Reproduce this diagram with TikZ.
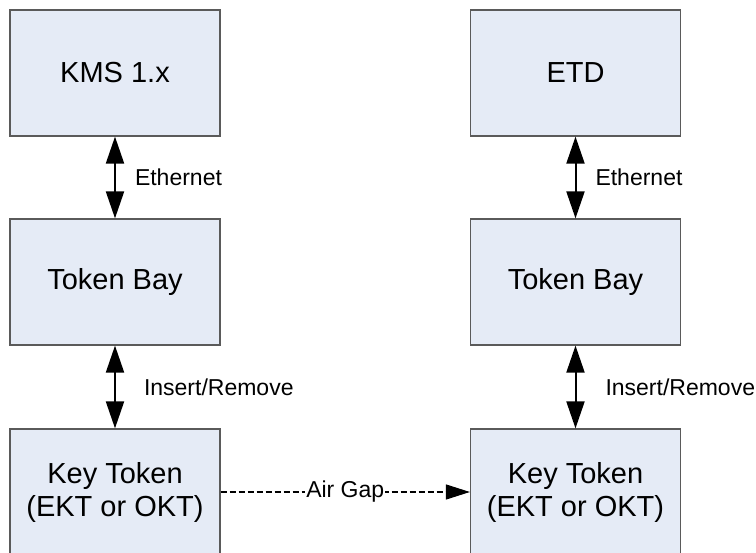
\documentclass[tikz,border=0pt]{standalone}
\usepackage{fontspec}
\setmainfont{Liberation Sans}
\usetikzlibrary{arrows.meta}
\definecolor{boxFill}{RGB}{229,235,246}
\definecolor{boxLine}{RGB}{90,90,90}

\begin{document}
\begin{tikzpicture}
[x=1pt,y=-1pt,
  boxDecorate/.style={shape=rectangle,draw=boxLine,fill=boxFill,line width=1.2pt,
    minimum width=210pt,minimum height=126pt,inner sep=0pt,align=center,
    font=\fontsize{29}{33}\selectfont},%
  lineDecorate/.style={arrows={Triangle[length=27pt,width=18pt]-Triangle[length=27pt,width=18pt]},line width=2pt},%
  gapDecorate/.style={-{Triangle[length=24pt,width=15pt]},line width=1.2pt,dash pattern=on 6pt off 3pt},%
  labelDecorate/.style={anchor=west,inner sep=0pt,font=\fontsize{23}{27}\selectfont}]
\useasboundingbox (0,0) rectangle (756,553);
%% boxes
\foreach \nodename/\x/\y/\txt in {kms/115/73/{KMS 1.x}, bayL/115/282/{Token Bay},
    tokL/115/492/{Key Token\\(EKT or OKT)}, etd/575.5/73/{ETD},
    bayR/575.5/282/{Token Bay}, tokR/575.5/492/{Key Token\\(EKT or OKT)}} {
  \node (\nodename) at (\x,\y) [boxDecorate] {\txt};
}
%% links
\path
\foreach \startnode/\endnode/\txt/\dx in {kms/bayL/Ethernet/19, bayL/tokL/Insert\slash Remove/28,
    etd/bayR/Ethernet/19, bayR/tokR/Insert\slash Remove/29} {
  (\startnode) edge[lineDecorate] node[labelDecorate,xshift=\dx pt] {\txt} (\endnode)
}
(tokL) edge[gapDecorate] node[fill=white,inner sep=1pt,font=\fontsize{23}{27}\selectfont] {Air Gap} (tokR);
\end{tikzpicture}
\end{document}
